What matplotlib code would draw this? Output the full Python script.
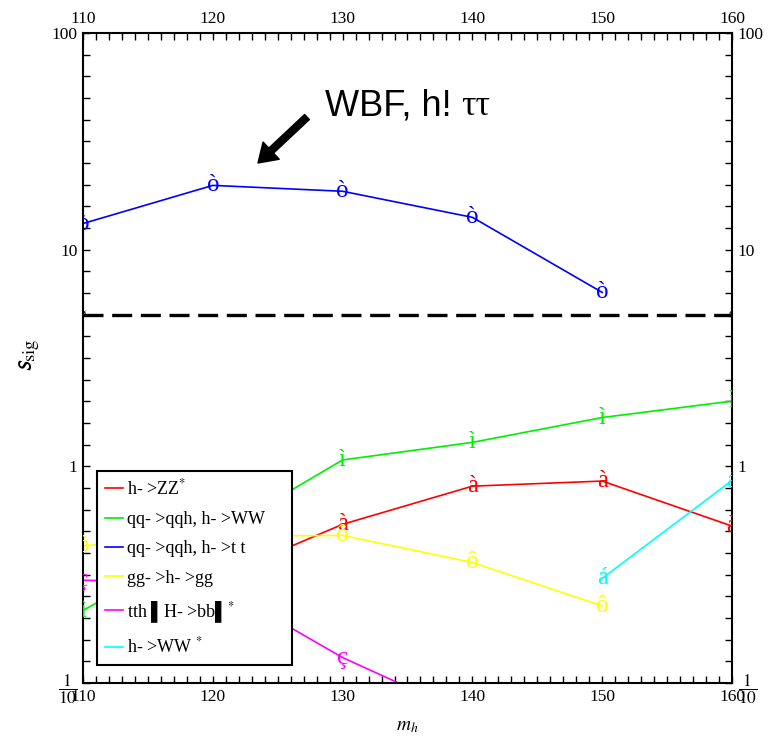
import numpy as np
import matplotlib
matplotlib.use("Agg")
import matplotlib.pyplot as plt
from matplotlib.ticker import FixedLocator, NullFormatter
from matplotlib.transforms import offset_copy

plt.rcParams['font.family'] = ['Liberation Serif', 'DejaVu Sans']
plt.rcParams['mathtext.fontset'] = 'stix'

# Data (nan = no point)
mh = [110, 120, 130, 140, 150, 160]
zz = [np.nan, 0.30, 0.54, 0.81, 0.855, 0.53]
ww_wbf = [0.216, 0.475, 1.07, 1.29, 1.68, 2.0]
tautau = [13.2, 19.8, 18.6, 14.1, 6.35, np.nan]
gamgam = [0.43, 0.475, 0.48, 0.36, 0.227, np.nan]
tth_bb = [0.298, 0.29, 0.131, 0.07, np.nan, np.nan]
ww_incl = [np.nan, np.nan, np.nan, np.nan, 0.304, 0.86]
threshold = 5

series = [
    (zz, "red", "à", "h- >ZZ$^{*}$"),
    (ww_wbf, "#00ee00", "ì", "qq- >qqh, h- >WW"),
    (tautau, "blue", "ò", "qq- >qqh, h- >t t"),
    (gamgam, "#ffff00", "ô", "gg- >h- >gg"),
    (tth_bb, "magenta", "ç", "tth ▌H- >bb▌$^{*}$"),
    (ww_incl, "cyan", "á", "h- >WW $^{*}$"),
]

fig = plt.figure(figsize=(7.77, 7.39), dpi=100)
ax = fig.add_axes([83/777, 56/739, 649/777, 650/739])
ax.set_xlim(110, 160)
ax.set_yscale('log')
ax.set_ylim(0.1, 100)

mark_tr = offset_copy(ax.transData, fig, y=-6, units='dots')
for vals, col, glyph, lab in series:
    ax.plot(mh, vals, color=col, lw=1.2, label=lab, clip_on=True)
    for x, y in zip(mh, vals):
        if not np.isnan(y):
            ax.text(x, y, glyph, color=col, fontsize=18, ha='center', va='baseline',
                    transform=mark_tr, clip_on=True)

ax.axhline(threshold, color='black', lw=2.4, dashes=(6, 2.6))
for x in (110, 160):
    ax.text(x, threshold, "ø", color='black', fontsize=9, ha='center', va='center', clip_on=True)

# ticks
ax.xaxis.set_major_locator(FixedLocator([110, 120, 130, 140, 150, 160]))
ax.xaxis.set_minor_locator(FixedLocator(np.arange(110, 161, 1)))
ax.set_yticks([0.1, 1, 10, 100])
ax.set_yticklabels([r'$\dfrac{1}{10}$', '1', '10', '100'])
ax.yaxis.set_minor_locator(FixedLocator(10 ** (np.arange(-10, 21) / 10.0)))
ax.yaxis.set_minor_formatter(NullFormatter())
ax.tick_params(which='both', direction='in', top=True, right=True,
               labeltop=True, labelright=True, length=5, width=1.0,
               labelsize=12.5, pad=4)
for sp in ax.spines.values():
    sp.set_linewidth(1.5)

ax.set_xlabel(r'$m_h$', fontsize=14, labelpad=10)
fig.text(30/777, 1 - 355/739, r'$\mathsf{s}_{\mathrm{sig}}$', rotation=90,
         fontsize=19, ha='center', va='center')

fig.text(325/777, 1 - 115/739, 'WBF, h!', fontsize=26,
         family='Liberation Sans', ha='left', va='baseline')
fig.text(461/777, 1 - 115/739, 'ττ', fontsize=26,
         family='Liberation Serif', ha='left', va='baseline')
ax.annotate('', xy=(258/777, 1 - 163/739), xycoords='figure fraction',
            xytext=(307/777, 1 - 117/739), textcoords='figure fraction',
            arrowprops=dict(facecolor='black', edgecolor='black', width=5,
                            headwidth=17, headlength=13, shrink=0))

leg = ax.legend(loc='lower left', bbox_to_anchor=(14/649, 18/650, 195/649, 192/650),
                mode='expand', fontsize=13,
                frameon=True, fancybox=False, borderaxespad=0, handlelength=1.0,
                handletextpad=0.2, labelspacing=0.68, borderpad=0.45, framealpha=1)
leg.get_frame().set_edgecolor('black')
leg.get_frame().set_linewidth(1.5)

fig.savefig('out.png', dpi=100)
